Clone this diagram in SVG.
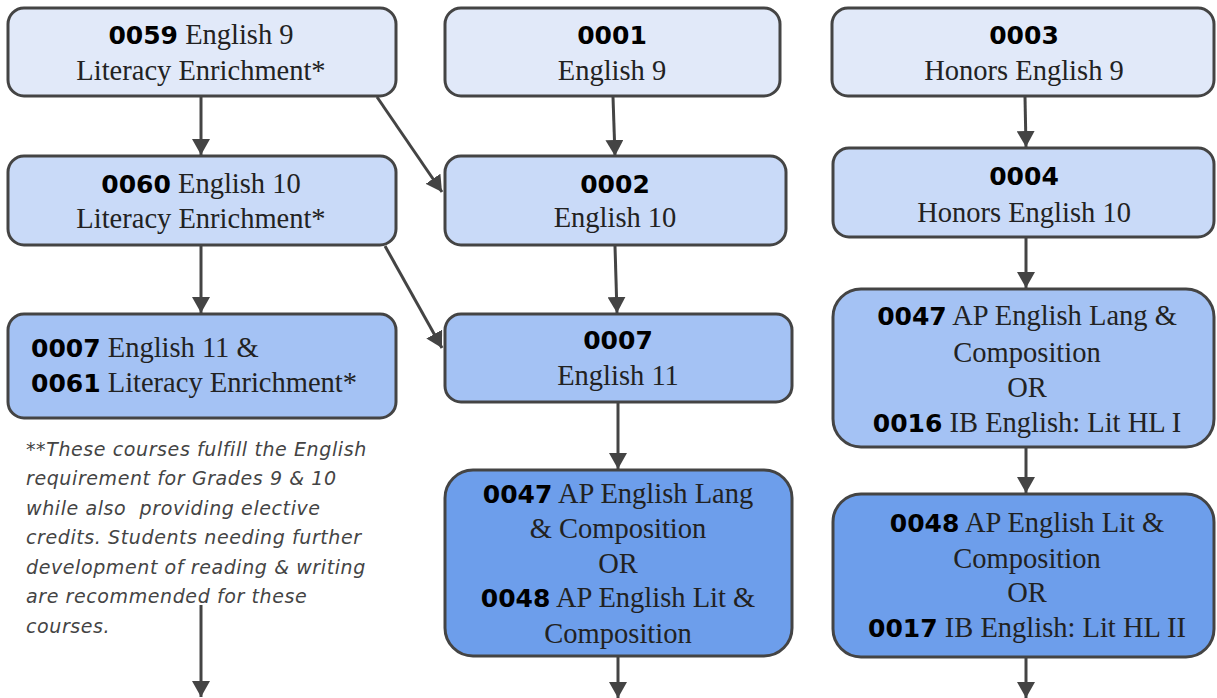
<svg xmlns="http://www.w3.org/2000/svg" width="1217" height="698" viewBox="0 0 1217 698">
<style>
.box{stroke:#444;stroke-width:3}
.r1{fill:#e1e9f9}
.r2{fill:#c9daf8}
.r3{fill:#a4c2f4}
.r4{fill:#6d9eeb}
text{font-family:"Liberation Serif","Times New Roman",serif;font-size:28.5px;fill:#222;text-anchor:middle}
.c{font-family:"DejaVu Sans",sans-serif;font-weight:bold;font-size:25px;fill:#000}
.l{text-anchor:start}
.note{font-family:"DejaVu Sans",sans-serif;font-style:italic;font-size:19px;letter-spacing:0.6px;fill:#444;text-anchor:start}
.edge{stroke:#444;stroke-width:3;fill:none;marker-end:url(#ah)}
</style>
<defs>
<marker id="ah" markerUnits="userSpaceOnUse" markerWidth="18" markerHeight="18" refX="16" refY="9" orient="auto">
<path d="M0,0 L16,9 L0,18 Z" fill="#444"/>
</marker>
</defs>
<rect width="1217" height="698" fill="#fff"/>
<g id="edges">
<line class="edge" x1="201" y1="97" x2="201" y2="155"/>
<line class="edge" x1="377" y1="97" x2="442" y2="192"/>
<line class="edge" x1="201" y1="246" x2="201" y2="313"/>
<line class="edge" x1="385" y1="246" x2="442" y2="348"/>
<line class="edge" x1="613" y1="97" x2="615" y2="156"/>
<line class="edge" x1="615" y1="246" x2="617" y2="313"/>
<line class="edge" x1="618" y1="403" x2="618" y2="469"/>
<line class="edge" x1="618" y1="657" x2="618" y2="698"/>
<line class="edge" x1="201" y1="605" x2="201" y2="697"/>
<line class="edge" x1="1025" y1="97" x2="1026" y2="147"/>
<line class="edge" x1="1026" y1="238" x2="1026" y2="288"/>
<line class="edge" x1="1026" y1="448" x2="1026" y2="493"/>
<line class="edge" x1="1026" y1="658" x2="1026" y2="698"/>
</g>
<g id="n0059">
<rect class="box r1" x="8" y="8" width="388" height="88" rx="16"/>
<text x="201" y="44"><tspan class="c">0059</tspan> English 9</text>
<text x="201" y="80">Literacy Enrichment*</text>
</g>
<g id="n0060">
<rect class="box r2" x="8" y="156" width="388" height="89" rx="16"/>
<text x="201" y="193"><tspan class="c">0060</tspan> English 10</text>
<text x="201" y="228">Literacy Enrichment*</text>
</g>
<g id="n0007_0061">
<rect class="box r3" x="8" y="314" width="388" height="104" rx="16"/>
<text class="l" x="31" y="357"><tspan class="c">0007</tspan> English 11 &amp;</text>
<text class="l" x="31" y="392"><tspan class="c">0061</tspan> Literacy Enrichment*</text>
</g>
<g id="note">
<text class="note" x="26" y="456">**These courses fulfill the English</text>
<text class="note" x="26" y="485">requirement for Grades 9 &amp; 10</text>
<text class="note" x="26" y="515" xml:space="preserve">while also  providing elective</text>
<text class="note" x="26" y="544">credits. Students needing further</text>
<text class="note" x="26" y="574">development of reading &amp; writing</text>
<text class="note" x="26" y="603">are recommended for these</text>
<text class="note" x="26" y="633">courses.</text>
</g>
<g id="n0001">
<rect class="box r1" x="445" y="8" width="335" height="88" rx="16"/>
<text x="612" y="44" class="c">0001</text>
<text x="612" y="80">English 9</text>
</g>
<g id="n0002">
<rect class="box r2" x="445" y="156" width="341" height="89" rx="16"/>
<text x="615" y="193" class="c">0002</text>
<text x="615" y="227">English 10</text>
</g>
<g id="n0007">
<rect class="box r3" x="445" y="314" width="347" height="88" rx="16"/>
<text x="618" y="349" class="c">0007</text>
<text x="618" y="385">English 11</text>
</g>
<g id="n0047_0048">
<rect class="box r4" x="445" y="470" width="347" height="186" rx="28"/>
<text x="618" y="503"><tspan class="c">0047</tspan> AP English Lang</text>
<text x="618" y="538">&amp; Composition</text>
<text x="618" y="573">OR</text>
<text x="618" y="607"><tspan class="c">0048</tspan> AP English Lit &amp;</text>
<text x="618" y="643">Composition</text>
</g>
<g id="n0003">
<rect class="box r1" x="832" y="8" width="382" height="88" rx="16"/>
<text x="1024" y="44" class="c">0003</text>
<text x="1024" y="80">Honors English 9</text>
</g>
<g id="n0004">
<rect class="box r2" x="833" y="148" width="381" height="89" rx="16"/>
<text x="1024" y="185" class="c">0004</text>
<text x="1024" y="222">Honors English 10</text>
</g>
<g id="n0047_0016">
<rect class="box r3" x="833" y="289" width="381" height="158" rx="28"/>
<text x="1027" y="325"><tspan class="c">0047</tspan> AP English Lang &amp;</text>
<text x="1027" y="362">Composition</text>
<text x="1027" y="397">OR</text>
<text x="1027" y="432"><tspan class="c">0016</tspan> IB English: Lit HL I</text>
</g>
<g id="n0048_0017">
<rect class="box r4" x="833" y="494" width="381" height="163" rx="28"/>
<text x="1027" y="532"><tspan class="c">0048</tspan> AP English Lit &amp;</text>
<text x="1027" y="568">Composition</text>
<text x="1027" y="602">OR</text>
<text x="1027" y="637"><tspan class="c">0017</tspan> IB English: Lit HL II</text>
</g>
</svg>
